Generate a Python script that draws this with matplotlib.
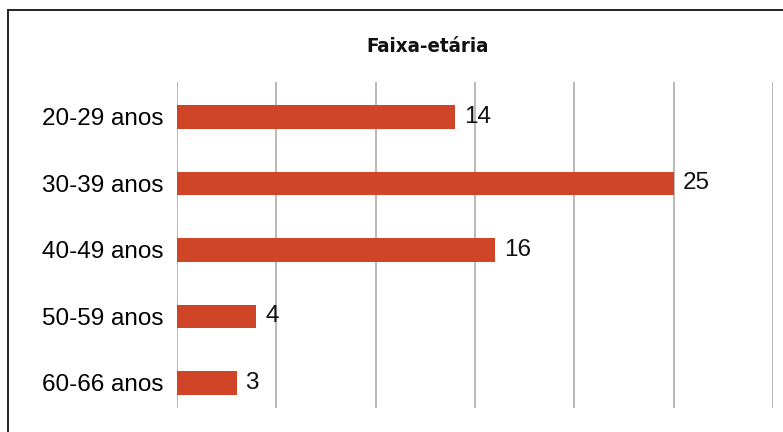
import matplotlib.pyplot as plt
from matplotlib.patches import Rectangle

# data
categories = ["20-29 anos", "30-39 anos", "40-49 anos", "50-59 anos", "60-66 anos"]
values = [14, 25, 16, 4, 3]
title = "Faixa-etária"

bar_color = "#D04427"
grid_color = "#A6A6A6"

fig = plt.figure(figsize=(7.83, 4.32), dpi=100)
ax = fig.add_axes([177 / 783, 1 - 408 / 432, (773 - 177) / 783, (408 - 82) / 432])

ypos = list(range(len(categories)))
ax.barh(ypos, values, height=0.35, color=bar_color, zorder=2)
ax.set_ylim(4.376, -0.526)
ax.set_xlim(0, 30)
ax.set_xticks(range(0, 31, 5))
ax.set_xticklabels([])
ax.set_yticks(ypos)
ax.set_yticklabels(categories, fontsize=17.5, family="Liberation Sans")
ax.tick_params(length=0, pad=10)
ax.grid(axis="x", color=grid_color, linewidth=1.1, zorder=0)
for s in ax.spines.values():
    s.set_visible(False)

for y, v in zip(ypos, values):
    ax.text(v + 0.45, y, str(v), va="center", ha="left", fontsize=17.5,
            family="Liberation Sans", color="#111111")

fig.text(428 / 783, 1 - 46 / 432, title, ha="center", va="center",
         fontsize=14.7, family="DejaVu Sans", fontstretch="condensed",
         fontweight="bold", color="#111111")

# outer frame (continues past right and bottom edges)
fig.patches.append(Rectangle((8 / 783, -0.05), 1.0, 1 - 10 / 432 + 0.05,
                             transform=fig.transFigure, fill=False,
                             edgecolor="#222222", linewidth=1.4))

fig.savefig("out.png", dpi=100)
